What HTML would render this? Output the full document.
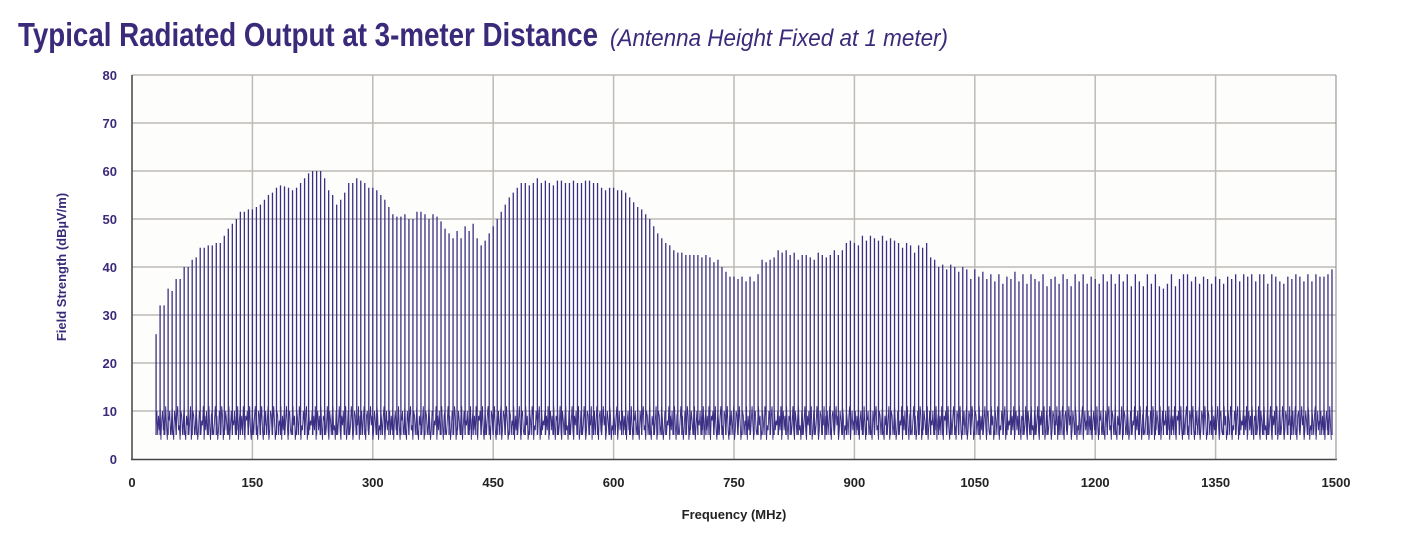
<!DOCTYPE html>
<html><head><meta charset="utf-8">
<style>
body{margin:0;background:#fff;}
svg text{font-family:"Liberation Sans",sans-serif;}
</style></head>
<body>
<svg width="1401" height="543" viewBox="0 0 1401 543" xmlns="http://www.w3.org/2000/svg">
<text x="18" y="46" font-size="33" font-weight="bold" fill="#3b2a7a" style="font-family:'Liberation Sans Narrow','Liberation Sans',sans-serif" textLength="580" lengthAdjust="spacingAndGlyphs">Typical Radiated Output at 3-meter Distance</text>
<text x="610" y="46" font-size="24" font-style="italic" fill="#3b2a7a" style="font-family:'Liberation Sans Narrow','Liberation Sans',sans-serif" textLength="338" lengthAdjust="spacingAndGlyphs">(Antenna Height Fixed at 1 meter)</text>
<rect x="132" y="75" width="1204" height="384" fill="#fdfdfb"/>
<g id="grid"></g>
<g id="noise"></g>
<g id="spikes"></g>
<line x1="132" y1="75" x2="132" y2="460" stroke="#444" stroke-width="1.5"/>
<line x1="131" y1="459.5" x2="1337" y2="459.5" stroke="#444" stroke-width="1.5"/>
<line x1="1336" y1="75" x2="1336" y2="460" stroke="#888" stroke-width="1"/>
<g id="labels"></g>
<text x="734" y="519" text-anchor="middle" font-size="13" font-weight="bold" fill="#222">Frequency (MHz)</text>
<text transform="translate(66,267) rotate(-90)" text-anchor="middle" font-size="13" font-weight="bold" fill="#3b2a7a">Field Strength (dBµV/m)</text>
</svg>
<script>
const yTicks=[0,10,20,30,40,50,60,70,80];
const xTicks=[0,150,300,450,600,750,900,1050,1200,1350,1500];
const spikeStart=30, spikeStep=5;
const peaks=[26,32,32,35.5,35,37.5,37.5,40,40,41.5,42,44,44,44.5,44.5,45,45,46.5,48,49,50,51.5,51.5,52,52,52.5,53,54,55,55.5,56.5,57,56.8,56.5,56,56.5,57.5,58.5,59.5,60,60,60,58.5,56,55,53,54,55.5,57.5,57.5,58.5,58,57.5,56.5,56.5,56,55,54,52.5,51,50.5,50.5,51,50,50,51.5,51.5,51,50,51,50.5,49.5,48,47,46,47.5,46,48.5,47.5,49,46,44.5,45.5,47,48.5,50,51.5,53,54.5,55.5,56.5,57.5,57.5,57,57.5,58.5,57.5,58,57.5,57,58,58,57.5,57.5,58,57.5,57.5,58,58,57.5,57.5,56.5,56,56.5,56.5,56,56,55.5,54.5,53.5,52.5,52,51,50,48.5,47,46,45,44.5,43.5,43,43,42.5,42.5,42.5,42.5,42,42.5,42,41,41.5,40,39,38,38,37.5,38,37,38,37,38.5,41.5,41,41.5,42,43.5,43,43.5,42.5,43,41.5,42.5,42.5,42,41.5,43,42.5,42,42.5,43.5,42.5,43.5,45,45.5,45,44.5,46.5,45.5,46.5,46,45.5,46.5,45.5,46,45.5,45,44,45,44.5,43,44.5,44,45,42,41.5,40,40.5,39.5,40.5,40,39,40,39.5,37.5,39.5,38,39,37.5,38.5,37,38.5,36.5,38,37.5,39,37,38.5,36.5,38.5,37.5,37,38.5,36,37.5,38,36.5,38.5,37.5,36,38.5,37,38.5,36.5,38,37.5,36.5,38.5,37,38.5,36.5,38.5,37,38.5,36,38.5,37,36,38.5,36.5,38.5,36,35.5,36.5,38.5,36,37.5,38.5,38.5,37,38,36.5,38,37.5,36.5,38,37.5,36.5,38,37.5,38.5,37,38.5,38,38.5,37,38.5,38.5,36.5,38.5,38,37,36.5,38,37.5,38.5,38,37,38.5,37,38.5,38,38,38.5,39.5];
const noiseVals=[7,10,5,9,6,11,4,8,10,6,9,5,11,7,4,9,8,10,5,7,11,6,4,10,8,5,9,11,6,7,4,10,9,5,8,11,6,4,9,7,10,5,8,11,4,6,10,9,5,7,11,8,4,6,10,9,5,8,7,11,4,9,6,10,5,8,11,7,4,9,10,6,5,8,11,7,9,4,6,10,8,5,11,9,4,7,6,10,8,5,9,11,4,7,10,6,8];
const X0=132,X1=1336,Y0=459,Y1=75,XMAX=1500,YMAX=80;
const xs=v=>X0+(v/XMAX)*(X1-X0);
const ys=v=>Y0-(v/YMAX)*(Y0-Y1);
const NS="http://www.w3.org/2000/svg";
function mk(tag,attrs,parent){const e=document.createElementNS(NS,tag);for(const k in attrs)e.setAttribute(k,attrs[k]);parent.appendChild(e);return e;}
const grid=document.getElementById('grid'),labels=document.getElementById('labels');
yTicks.forEach(t=>{
  if(t>0){const l=mk('line',{x1:X0,x2:X1,y1:ys(t),y2:ys(t),stroke:'#bdbab7','stroke-width':1.5},grid);
  
  }
  const tx=mk('text',{x:117,y:ys(t)+5,'text-anchor':'end','font-size':13,'font-weight':'bold',fill:'#3b2a7a'},labels);
  tx.textContent=t;
  
  
});
xTicks.forEach(t=>{
  if(t>0&&t<XMAX){const l=mk('line',{x1:xs(t),x2:xs(t),y1:Y1,y2:Y0,stroke:'#bdbab7','stroke-width':1.5},grid);
  
  }
  const tx=mk('text',{x:xs(t),y:487,'text-anchor':'middle','font-size':13,'font-weight':'bold',fill:'#222'},labels);
  tx.textContent=t;
  
  
});
let pts=[];
const f0=spikeStart,f1=Math.min(XMAX,spikeStart+spikeStep*(peaks.length-1));
let i=0;
for(let px=xs(f0);px<=xs(f1);px+=0.8){pts.push(px.toFixed(1)+','+ys(noiseVals[i%noiseVals.length]).toFixed(1));i++;}
const nl=mk('polyline',{points:pts.join(' '),fill:'none',stroke:'#3b2f85','stroke-width':0.9},document.getElementById('noise'));


const sg=document.getElementById('spikes');
peaks.forEach((p,k)=>{
  const f=spikeStart+k*spikeStep;
  if(f>XMAX)return;
  const l=mk('line',{x1:xs(f),x2:xs(f),y1:ys(5),y2:ys(p),stroke:'#3b2f85','stroke-width':1.3},sg);
  
  
});
</script>
</body></html>
